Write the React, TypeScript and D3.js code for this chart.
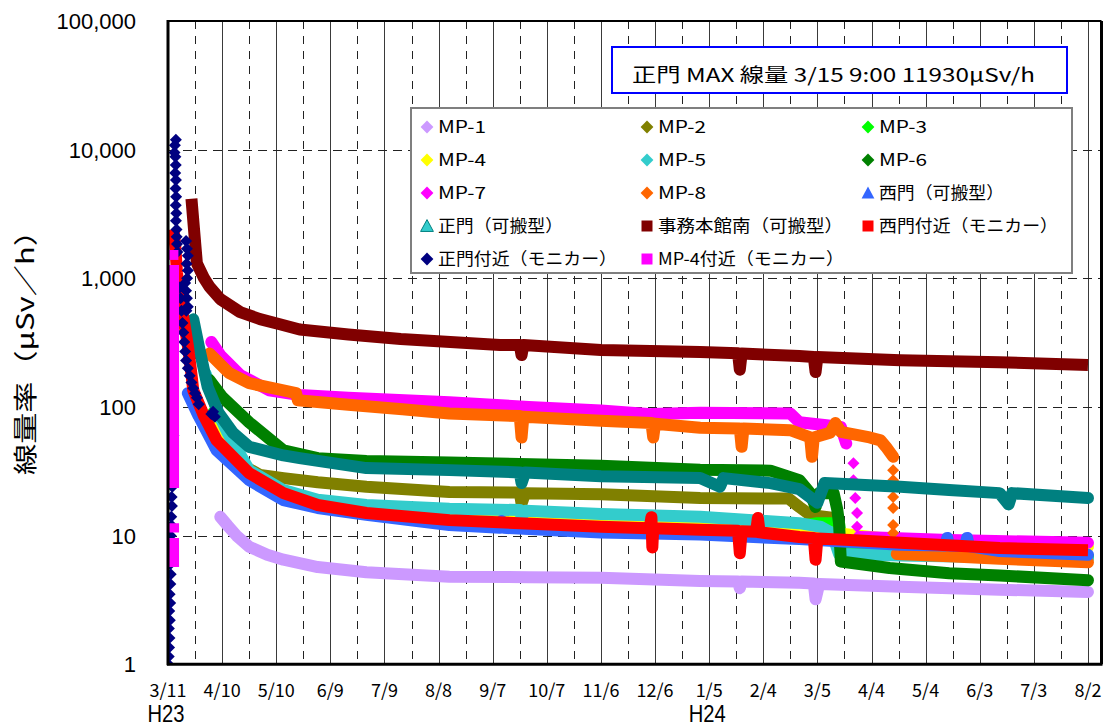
import React from "react";
import * as d3 from "d3";

// Dose-rate record at the site monitoring posts, 2011-03-11 → 2012-08-09.
// Each point is [days since 3/11 H23, µSv/h]; null breaks a line.
type Pt = [number, number] | null;

const xTickLabels = [
  "3/11", "4/10", "5/10", "6/9", "7/9", "8/8", "9/7", "10/7", "11/6",
  "12/6", "1/5", "2/4", "3/5", "4/4", "5/4", "6/3", "7/3", "8/2",
];
const xTickStepDays = 30;
const eraLabels: { day: number; text: string }[] = [
  { day: 0, text: "H23" },
  { day: 300, text: "H24" },
];
const yTickValues = [1, 10, 100, 1000, 10000, 100000];
const yGridValues = [10, 100, 1000, 10000];

const titleText = "正門 MAX 線量 3/15 9:00 11930μSv/h";
const yAxisTitle = "線量率（μSv／h）";

const mp1: Pt[] = [
  [29, 14], [33, 12], [38, 10], [45, 8.2], [55, 7.1], [64, 6.5], [83, 5.7],
  [110, 5.2], [156, 4.8], [200, 4.75], [240, 4.7], [295, 4.45], [316, 4.4],
  [317, 3.9], [318, 4.4], [350, 4.3], [358, 4.25], [359, 3.2], [361, 4.2],
  [406, 4.0], [461, 3.8], [510, 3.65],
];
const mp2: Pt[] = [
  [45, 33], [51, 29.6], [64, 28], [83, 26], [110, 24], [156, 21.8], [195, 21.6],
  [196, 17.8], [198, 21.4], [240, 21], [295, 19.6], [344, 19.4], [350, 16.7],
  [356, 14.5], [368, 13.8], [371, 13.2], [372, 7.8], [380, 7.5], [433, 7.2],
  [510, 6.9],
];
const mp3: Pt[] = [
  [25, 90], [30, 60], [45, 31.5], [64, 21.8], [83, 17.8], [110, 15.6],
  [156, 13.8], [240, 12.4], [295, 12.0], [345, 11.6], [360, 12.5], [372, 12.5],
  [374, 7.4], [400, 7.3], [461, 7.1], [510, 6.9],
];
const mp4: Pt[] = [
  [25, 88], [30, 59], [45, 31], [64, 21.6], [83, 17.6], [110, 15.4], [156, 13.6],
  [240, 12.2], [295, 11.8], [350, 11.2], [372, 10.4], [406, 9.2], [461, 8.6],
  [510, 8.2],
];
const mp5: Pt[] = [
  [21, 180], [27, 95], [33, 63], [45, 32.3], [64, 22.6], [83, 19], [110, 17.3],
  [156, 16.2], [195, 15.8], [196, 14], [198, 15.6], [240, 14.7], [295, 14],
  [350, 12.5], [362, 11.7], [368, 10.5], [372, 7.2], [406, 7.0], [461, 6.8],
  [510, 6.6],
];
const mp6: Pt[] = [
  [23, 162], [30, 120], [45, 76], [64, 46], [83, 40], [110, 38], [156, 37],
  [240, 35], [295, 32.5], [334, 32], [350, 27], [356, 21.4], [359, 16.7],
  [361, 21.4], [369, 21.4], [371, 16], [372, 12.5], [373, 6.3], [400, 5.6],
  [433, 5.1], [461, 4.9], [510, 4.5],
];
const mp7: Pt[] = [
  [24, 320], [29, 253], [40, 177], [56, 135], [73, 124], [100, 118], [156, 109],
  [200, 100], [240, 94], [268, 88], [295, 90], [345, 89], [350, 76], [365, 72],
  [373, 70], [376, 52], null, [383, 9.75], [389, 9.7], [433, 9.25], [510, 8.8],
];
const mp7Drop: Pt[] = [[380, 36.6], [380, 27], [381, 19.6], [382, 15], [382, 11.7]];
const mp8: Pt[] = [
  [23, 260], [34, 183], [45, 153], [60, 138], [71, 128], [72, 113], [100, 104],
  [130, 96], [156, 89], [195, 85], [196, 58], [197, 84], [240, 78], [268, 75],
  [269, 58], [270, 74], [295, 69], [317, 68], [318, 49], [319, 68], [345, 66],
  [356, 58], [357, 41], [358, 58], [367, 63], [370, 75], [373, 64], [389, 58],
  [395, 55], [398, 49], [402, 41], null, [404, 7.2], [433, 6.9], [461, 6.6],
  [510, 6.2],
];
const mp8Drop: Pt[] = [[402, 32.3], [402, 27], [402, 20], [402, 16.4], [402, 12.1], [402, 10.5]];
const westPortable: Pt[] = [
  [11, 128], [17, 85], [27, 46], [45, 27], [64, 18.9], [83, 16.4], [110, 14.5],
  [156, 12.1], [184, 11.5], [185, 13], [186, 11.5], [240, 10.6], [295, 10.2],
  [350, 9.4], [406, 8.5], [431, 8.4], [432, 9.6], [433, 8.4], [442, 8.3],
  [443, 9.6], [444, 8.3], [461, 7.6], [510, 7.1],
];
const mainGatePortable: Pt[] = [
  [14, 480], [17, 300], [22, 143], [28, 90], [36, 63], [45, 49], [64, 42],
  [73, 40], [110, 33.5], [156, 32.3], [195, 31], [196, 25.6], [198, 31],
  [240, 29], [295, 28], [306, 24], [308, 28], [334, 25.6], [350, 23], [360, 18],
  [364, 25.6], [406, 24], [433, 22.6], [461, 21.4], [466, 17.5], [468, 21.4],
  [510, 19.6],
];
const officeSouth: Pt[] = [
  [13, 4150], [16, 1310], [20, 1000], [23, 860], [29, 689], [40, 546], [51, 482],
  [62, 440], [73, 400], [100, 366], [129, 337], [184, 303], [195, 303], [196, 253],
  [197, 303], [240, 277], [295, 267], [316, 262], [317, 195], [318, 260],
  [350, 249], [358, 245], [359, 187], [360, 245], [406, 231], [461, 223],
  [510, 212],
];
const westMonitor: Pt[] = [
  [3, 2400], [4, 1800], [5, 1100], [7, 650], [9, 450], [11, 300], [13, 180],
  [14, 135], [20, 85], [27, 55], [45, 30.6], [64, 21.4], [83, 17.3], [110, 15],
  [156, 13.2], [240, 11.7], [267, 11.4], [268, 13.9], [268.5, 8.1], [269, 11.4],
  [295, 11.1], [316, 10.9], [317, 7.3], [318, 10.8], [326, 10.7], [327, 13.7],
  [328, 10.6], [350, 9.75], [358, 9.6], [359, 6.5], [360, 9.5], [378, 9.25],
  [406, 8.8], [461, 8.0], [510, 7.7],
];
const mainGateMonitor: Pt[] = [
  [0.2, 1], [0.4, 1.15], [0.6, 1.35], [0.8, 1.6], [0.5, 1.9], [1, 2.2],
  [0.7, 2.6], [1.2, 3], [0.9, 3.5], [1.3, 4.2], [1.5, 5], [1.2, 6], [1.6, 7],
  [1.8, 8.5], [1.5, 10], [2, 12], [1.8, 14], [2.2, 17], [2.0, 20], [2.4, 24],
  [2.2, 29], [2.6, 35], [2.8, 45], [3.0, 60], [3.6, 9500], [3.8, 10800],
  [4.375, 11930], [4.1, 8800], [4.3, 7600], [4.0, 6600], [4.4, 5800],
  [4.2, 5000], [4.5, 4300], [4.3, 3700], [4.6, 3200], [4.4, 2800], [4.7, 2400],
  [4.8, 2100], [5.0, 1850], [5.2, 1600], [6.5, 850], [7, 700], [7.5, 560],
  [8, 450], [8.5, 380], [9, 320], [9.5, 270], [10, 230], [11, 200], [12, 175],
  [13, 155], [14, 140], [15, 128], [16, 118], [17, 105], [10, 1950],
  [10.5, 1700], [11, 1500], [10.3, 1300], [11, 1150], [10.6, 1000], [9.5, 920],
  [10, 800], [10.5, 700], [11, 600], [10.2, 560], [24, 88], [25, 92], [26, 84],
];
const mp4Monitor: Pt[] = [
  [2.8, 23.5], [2.8, 1270], null, [2.8, 12.5], [2.8, 10.6], null, [2.8, 9.6],
  [2.8, 5.7],
];
const mp4MonitorTop: Pt[] = [[3.0, 1520]];

type Shape = "diamond" | "triangle" | "square";
interface Series {
  name: string;
  color: string;
  legendFill?: string;
  legendWidth: number;
  shape: Shape;
  line: Pt[];
  dots?: Pt[];
}

const series: Series[] = [
  { name: "MP-1", color: "#cc99ff", legendWidth: 48, shape: "diamond", line: mp1 },
  { name: "MP-2", color: "#808000", legendWidth: 48, shape: "diamond", line: mp2 },
  { name: "MP-3", color: "#00ff00", legendWidth: 48, shape: "diamond", line: mp3 },
  { name: "MP-4", color: "#ffff00", legendWidth: 48, shape: "diamond", line: mp4 },
  { name: "MP-5", color: "#33cccc", legendWidth: 48, shape: "diamond", line: mp5 },
  { name: "MP-6", color: "#008000", legendWidth: 48, shape: "diamond", line: mp6 },
  { name: "MP-7", color: "#ff00ff", legendWidth: 48, shape: "diamond", line: mp7, dots: mp7Drop },
  { name: "MP-8", color: "#ff6600", legendWidth: 48, shape: "diamond", line: mp8, dots: mp8Drop },
  { name: "西門（可搬型）", color: "#3366ff", legendWidth: 125, shape: "triangle", line: westPortable },
  { name: "正門（可搬型）", color: "#008080", legendFill: "#33cccc", legendWidth: 125, shape: "triangle", line: mainGatePortable },
  { name: "事務本館南（可搬型）", color: "#800000", legendWidth: 185, shape: "square", line: officeSouth },
  { name: "西門付近（モニカー）", color: "#ff0000", legendWidth: 179, shape: "square", line: westMonitor },
  { name: "正門付近（モニカー）", color: "#000080", legendWidth: 179, shape: "diamond", line: [], dots: mainGateMonitor },
  { name: "MP-4付近（モニカー）", color: "#ff00ff", legendWidth: 186, shape: "square", line: mp4Monitor, dots: mp4MonitorTop },
];

const W = 1112;
const H = 727;
const plot = { left: 168, right: 1101.5, top: 21, bottom: 664.3 };
const JP = "'Noto Sans CJK JP', 'Noto Sans', sans-serif";

function markerPath(shape: Shape, r: number): string {
  if (shape === "diamond") return `M0,${-r}L${r},0L0,${r}L${-r},0Z`;
  if (shape === "triangle") return `M0,${-r}L${r},${r * 0.85}L${-r},${r * 0.85}Z`;
  return `M${-r},${-r}H${r}V${r}H${-r}Z`;
}

export default function App() {
  const x = d3.scaleLinear().domain([0, 517.5]).range([plot.left, plot.right]);
  const y = d3.scaleLog().domain([1, 100000]).range([plot.bottom, plot.top]);

  const line = d3
    .line<Pt>()
    .defined((d) => d !== null)
    .x((d) => x((d as [number, number])[0]))
    .y((d) => y((d as [number, number])[1]));

  const majorDays = d3.range(xTickStepDays, xTickLabels.length * xTickStepDays, xTickStepDays);
  const minorDays = d3.range(xTickStepDays / 2, (xTickLabels.length - 1) * xTickStepDays, xTickStepDays);

  const legendCols = [427, 647, 868];
  const legendRows = [127, 160, 193, 226, 259];

  return (
    <svg width={W} height={H} style={{ display: "block", position: "absolute", left: 0, top: 0, background: "#fff" }}>
      <defs>
        <clipPath id="plotClip">
          <rect x={plot.left} y={plot.top} width={plot.right - plot.left} height={plot.bottom - plot.top} />
        </clipPath>
      </defs>
      <rect x={0} y={0} width={W} height={H} fill="#fff" />

      {/* grid */}
      <g>
        {majorDays.map((d) => (
          <line key={"m" + d} x1={Math.round(x(d)) + 0.5} x2={Math.round(x(d)) + 0.5} y1={plot.top} y2={plot.bottom} stroke="#3a3a3a" strokeWidth={1} />
        ))}
        {minorDays.map((d) => (
          <line key={"n" + d} x1={Math.round(x(d)) + 0.5} x2={Math.round(x(d)) + 0.5} y1={plot.top} y2={plot.bottom} stroke="#222" strokeWidth={1} strokeDasharray="8,7" />
        ))}
        {yGridValues.map((v) => (
          <line key={"h" + v} x1={plot.left} x2={plot.right} y1={Math.round(y(v)) + 0.5} y2={Math.round(y(v)) + 0.5} stroke="#222" strokeWidth={1} strokeDasharray="9,6" />
        ))}
      </g>

      {/* title box */}
      <rect x={612} y={47} width={455} height={46} fill="#fff" stroke="#0000ff" strokeWidth={2} />
      <text x={632} y={82} fontFamily={JP} fontSize={19} textLength={403} lengthAdjust="spacingAndGlyphs" fill="#000">
        {titleText}
      </text>

      {/* legend */}
      <rect x={411} y={108} width={661} height={165} fill="#fff" stroke="#7f7f7f" strokeWidth={2} />
      {series.map((s, i) => {
        const cx = legendCols[i % 3];
        const cy = legendRows[Math.floor(i / 3)];
        return (
          <g key={"lg" + i}>
            <path
              d={markerPath(s.shape, s.shape === "square" ? 5.5 : 6.4)}
              transform={`translate(${cx},${cy})`}
              fill={s.legendFill ?? s.color}
              stroke={s.legendFill ? s.color : "none"}
              strokeWidth={1}
            />
            <text
              x={cx + 11}
              y={cy}
              dy="0.36em"
              fontFamily={JP}
              fontSize={17}
              textLength={s.legendWidth}
              lengthAdjust="spacingAndGlyphs"
              fill="#000"
            >
              {s.name}
            </text>
          </g>
        );
      })}

      {/* data */}
      <g clipPath="url(#plotClip)">
        {series.map((s, i) => (
          <g key={"s" + i}>
            {s.line.length > 0 && (
              <path
                d={line(s.line) ?? ""}
                fill="none"
                stroke={s.color}
                strokeWidth={12}
                strokeLinejoin="round"
                strokeLinecap={s.shape === "square" ? "butt" : "round"}
              />
            )}
            {(s.dots ?? []).map((d, j) =>
              d ? (
                <path
                  key={j}
                  d={markerPath(s.shape, s.shape === "square" ? 5 : 6)}
                  transform={`translate(${x(d[0])},${y(d[1])})`}
                  fill={s.color}
                />
              ) : null
            )}
          </g>
        ))}
      </g>

      {/* frame */}
      <line x1={plot.left} x2={plot.right} y1={plot.top} y2={plot.top} stroke="#000" strokeWidth={2} />
      <line x1={plot.right} x2={plot.right} y1={plot.top} y2={plot.bottom} stroke="#000" strokeWidth={3} />
      <line x1={plot.left - 1} x2={plot.right + 1} y1={plot.bottom} y2={plot.bottom} stroke="#000" strokeWidth={3} />
      <line x1={plot.left} x2={plot.left} y1={plot.top - 1} y2={plot.bottom + 1} stroke="#000" strokeWidth={3} />

      {/* y axis */}
      {yTickValues.map((v) => (
        <text key={"yt" + v} x={136} y={y(v)} dy="0.36em" textAnchor="end" fontFamily="'Liberation Sans', Arial, sans-serif" fontSize={22} fill="#000">
          {d3.format(",")(v)}
        </text>
      ))}
      <text
        transform={`translate(34,345) rotate(-90)`}
        textAnchor="middle"
        fontFamily={JP}
        fontSize={24}
        textLength={260}
        lengthAdjust="spacingAndGlyphs"
        fill="#000"
      >
        {yAxisTitle}
      </text>

      {/* x axis */}
      {xTickLabels.map((t, i) => (
        <text key={"xt" + i} x={x(i * xTickStepDays)} y={697} textAnchor="middle" fontFamily={JP} fontSize={18} fill="#000">
          {t}
        </text>
      ))}
      {eraLabels.map((e) => (
        <text key={e.text} x={x(e.day) - 2} y={722} textAnchor="middle" fontFamily="'Liberation Sans', Arial, sans-serif" fontSize={24} textLength={37} lengthAdjust="spacingAndGlyphs" fill="#000">
          {e.text}
        </text>
      ))}
    </svg>
  );
}
